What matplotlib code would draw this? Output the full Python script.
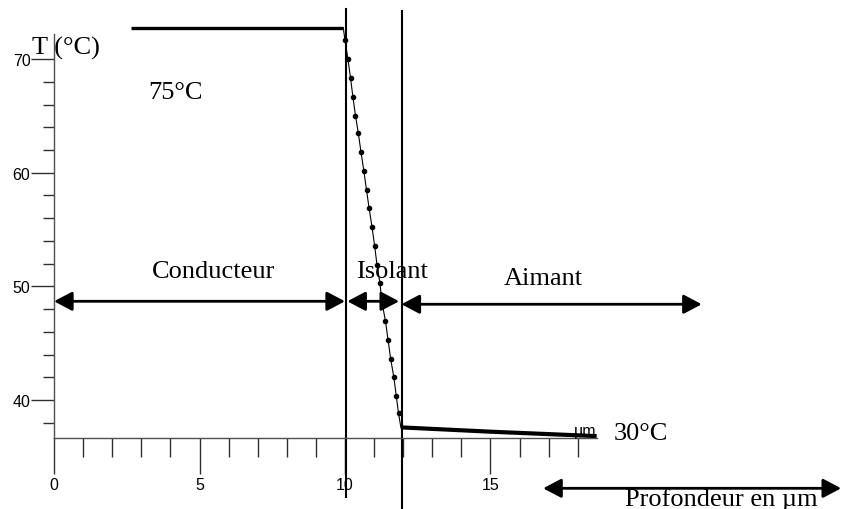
import matplotlib
matplotlib.use('Agg')
import matplotlib.pyplot as plt

# temperature profile (depth in um, T in degC)
conduct_x = [2.65, 9.94]
conduct_y = [72.77, 72.77]

isol_x = [10.0, 10.1, 10.19, 10.27, 10.36, 10.46, 10.55, 10.65, 10.74, 10.83, 10.93,
          11.02, 11.1, 11.2, 11.27, 11.39, 11.48, 11.57, 11.68, 11.76, 11.84]
isol_y = [71.64, 70.0, 68.35, 66.7, 65.03, 63.45, 61.8, 60.13, 58.46, 56.86, 55.2,
          53.53, 51.9, 50.3, 48.6, 46.96, 45.3, 43.6, 42.0, 40.4, 38.84]

aimant_x = [11.92, 15.0, 18.65]
aimant_y = [37.6, 37.22, 36.83]

# layer boundaries and region labels
boundaries = [10.02, 11.97]
regions = ['Conducteur', 'Isolant', 'Aimant']
region_x = [5.5, 11.62, 16.8]
region_y = [50.8, 50.8, 50.21]

x_major = [0, 5, 10, 15]
x_minor = [1, 2, 3, 4, 6, 7, 8, 9, 11, 12, 13, 14, 16, 17, 18]
y_major = [40, 50, 60, 70]
y_minor = [38, 42, 44, 46, 48, 52, 54, 56, 58, 62, 64, 66, 68]


def arrow(ax, x0, x1, y, style='<|-|>'):
    ax.annotate('', xy=(x1, y), xytext=(x0, y),
                arrowprops=dict(arrowstyle=style + ',head_length=1.1,head_width=0.58',
                                mutation_scale=10, lw=2, color='black',
                                shrinkA=0, shrinkB=0),
                annotation_clip=False)


def main():
    serif = 'Liberation Serif'
    fig = plt.figure(figsize=(8.42, 5.10), dpi=100)
    ax = fig.add_axes([0, 0, 1, 1])
    ax.set_xlim(-1.856, 27.08)
    ax.set_ylim(30.42, 75.28)
    ax.patch.set_visible(False)

    # axes drawn as crossing spines
    for s in ['top', 'right']:
        ax.spines[s].set_visible(False)
    ax.spines['left'].set_position(('data', 0))
    ax.spines['bottom'].set_position(('data', 36.69))
    ax.spines['left'].set_bounds(36.69, 72.2)
    ax.spines['bottom'].set_bounds(0, 18.65)
    for s in ['left', 'bottom']:
        ax.spines[s].set_color('#505050')
        ax.spines[s].set_linewidth(1.0)

    ax.set_xticks(x_major)
    ax.set_xticks(x_minor, minor=True)
    ax.set_yticks(y_major)
    ax.set_yticks(y_minor, minor=True)
    ax.tick_params(axis='x', which='major', direction='out', length=26, width=1,
                   color='#303030', pad=2, labelsize=11.5)
    ax.tick_params(axis='x', which='minor', direction='out', length=13.5, width=1,
                   color='#303030')
    ax.tick_params(axis='y', which='major', direction='out', length=16.5, width=1,
                   color='#303030', pad=0.5, labelsize=11.5)
    ax.tick_params(axis='y', which='minor', direction='out', length=8, width=1,
                   color='#303030')
    for lab in ax.get_xticklabels() + ax.get_yticklabels():
        lab.set_family('Liberation Sans')

    # layer boundaries
    ax.plot([boundaries[0]] * 2, [74.4, 31.5], color='black', lw=1.5, clip_on=False)
    ax.plot([boundaries[1]] * 2, [74.22, 30.3], color='black', lw=1.5, clip_on=False)

    # profile
    ax.plot(conduct_x, conduct_y, color='black', lw=2.4, solid_capstyle='butt')
    line_x = [conduct_x[-1]] + isol_x + [aimant_x[0]]
    line_y = [conduct_y[-1]] + isol_y + [aimant_y[0]]
    ax.plot(line_x, line_y, color='black', lw=0.8)
    ax.plot(isol_x, isol_y, 'o', color='black', ms=3)
    ax.plot(aimant_x, aimant_y, color='black', lw=3, solid_capstyle='butt')

    # region arrows
    arrow(ax, 0, 10.0, 48.69)
    arrow(ax, 10.08, 11.86, 48.69)
    arrow(ax, 11.94, 22.26, 48.43)
    arrow(ax, 16.81, 27.05, 32.24)

    for name, xr, yr in zip(regions, region_x, region_y):
        ax.text(xr, yr, name, family=serif, fontsize=19, ha='center', va='baseline')

    ax.text(-0.756, 70.44, 'T (°C)', family=serif, fontsize=19, ha='left', va='baseline')
    ax.text(3.23, 66.54, '75°C', family=serif, fontsize=19, ha='left', va='baseline')
    ax.text(19.22, 36.58, '30°C', family=serif, fontsize=19, ha='left', va='baseline')
    ax.text(18.65, 36.93, 'µm', family='Liberation Sans', fontsize=11.5,
            ha='right', va='baseline')
    ax.text(22.92, 30.73, 'Profondeur en µm', family=serif, fontsize=19,
            ha='center', va='baseline')

    fig.savefig('out.png', dpi=100, facecolor='white')
    plt.close(fig)


if __name__ == '__main__':
    main()
